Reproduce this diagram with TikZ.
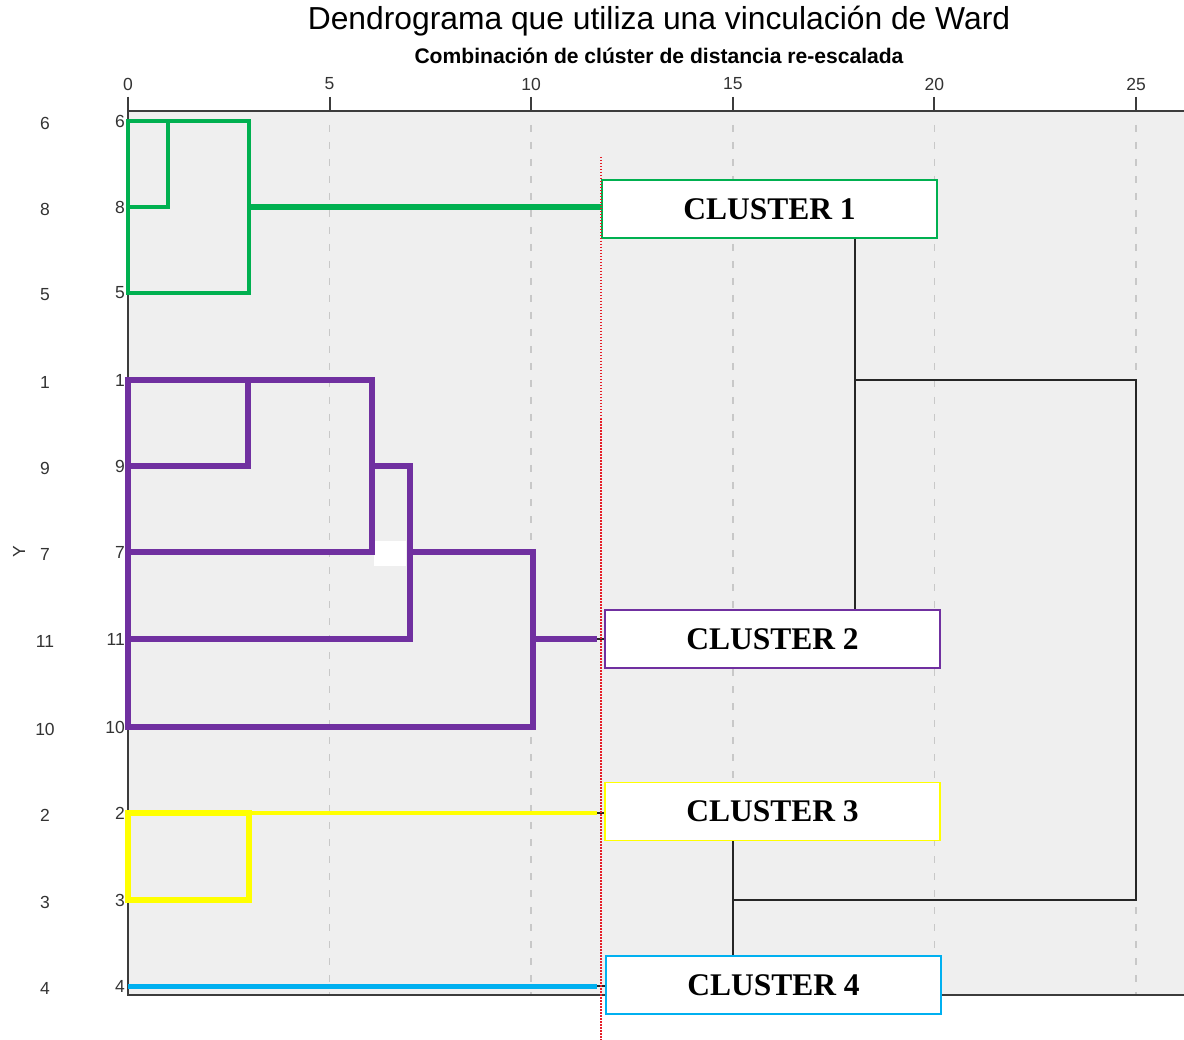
\documentclass[tikz,border=0pt]{standalone}
\usepackage{fontspec}
\setmainfont{Liberation Sans}
\newfontfamily\tnr{Liberation Serif}
\definecolor{plotbg}{RGB}{239,239,239}
\definecolor{axisc}{RGB}{60,60,60}
\definecolor{gridc}{RGB}{200,200,200}
\definecolor{cgreen}{RGB}{0,176,80}
\definecolor{cpurple}{RGB}{112,48,160}
\definecolor{cyellow}{RGB}{255,255,0}
\definecolor{cblue}{RGB}{0,176,240}
\definecolor{cutred}{RGB}{230,30,40}
\tikzset{
  axisline/.style={draw=axisc,line width=2pt},
  gridline/.style={draw=gridc,line width=1.5pt,dash pattern=on 7pt off 10pt},
  ticklab/.style={font=\fontsize{17.5}{20}\selectfont,text=black!80,inner sep=0pt},
  rowlab/.style={font=\fontsize{17.5}{20}\selectfont,text=black!80,inner sep=0pt},
  greenl/.style={draw=cgreen,line width=4pt,line join=miter,line cap=rect},
  purpl/.style={draw=cpurple,line width=5.5pt,line join=miter,line cap=rect},
  yell/.style={draw=cyellow,line width=6pt,line join=miter,line cap=rect},
  bluel/.style={draw=cblue,line width=5pt},
  blk/.style={draw=black!85,line width=2pt,line join=miter},
  clbox/.style={fill=white,line width=1.5pt,minimum width=335pt,minimum height=58pt,inner sep=0pt,
    font=\tnr\bfseries\fontsize{31.5}{36}\selectfont},
}
\begin{document}
\begin{tikzpicture}[x=1pt,y=-1pt]
\useasboundingbox (0,0) rectangle (1184,1040);
\fill[white] (0,0) rectangle (1184,1040);
% plot area
\fill[plotbg] (128,111) rectangle (1184,995);
% grid
\foreach \v in {5,10,15,20,25}{
  \draw[gridline] ({128+40.32*\v},125) -- ({128+40.32*\v},995);
}
% axes
\draw[axisline] (128,97) -- (128,995) -- (1184,995);
\draw[axisline] (128,111) -- (1184,111);
\foreach \v in {0,5,10,15,20,25}{
  \draw[axisline] ({128+40.32*\v},97) -- ({128+40.32*\v},111);
  \node[ticklab] (t\v) at ({128+40.32*\v},84) {\v};
}
% titles
\node[font=\fontsize{31.8}{36}\selectfont,inner sep=0pt] (title) at (659,21) {Dendrograma que utiliza una vinculación de Ward};
\node[font=\bfseries\fontsize{21.1}{24}\selectfont,inner sep=0pt] (subtitle) at (659,56) {Combinación de clúster de distancia re-escalada};
\node[rowlab,rotate=90] (ylab) at (19,552) {Y};
% row labels
\foreach \lab/\yy in {6/121,8/207,5/293,1/380,9/466,7/552,11/639,10/727,2/813,3/900,4/986}{
  \node[rowlab] (o\lab) at (45,{\yy+2}) {\lab};
  \node[rowlab,anchor=east] (i\lab) at (125,\yy) {\lab};
}
% white patch
\fill[white] (374,541) rectangle (406,566);
% black upper tree
\coordinate (k18) at (855,0);
\coordinate (k15) at (733,0);
% cluster boxes
\node[clbox,draw=cgreen] (c1) at (769.5,209) {CLUSTER 1};
\node[clbox,draw=cpurple] (c2) at (772.5,639) {CLUSTER 2};
\node[clbox,draw=cyellow] (c3) at (772.5,811.5) {CLUSTER 3};
\node[clbox,draw=cblue] (c4) at (773.5,985) {CLUSTER 4};
\draw[blk] (c1.south -| k18) -- (c2.north -| k18);
\draw[blk] (c3.south -| k15) -- (c4.north -| k15);
\draw[blk] (855,380) -- (1136,380) -- (1136,900) -- (733,900);
% green cluster
\draw[greenl] (128,121) rectangle (249,293);
\draw[greenl] (168,121) -- (168,207) -- (128,207);
\coordinate (g1) at (249,207);
\draw[draw=cgreen,line width=6pt] (g1) -- (c1.west |- g1);
% purple cluster
\draw[purpl] (128,380) -- (372,380) -- (372,552) -- (128,552);
\draw[purpl] (128,380) -- (128,727);
\draw[purpl] (248,380) -- (248,466) -- (128,466);
\draw[purpl] (372,466) -- (410,466) -- (410,639) -- (128,639);
\draw[purpl] (410,552) -- (533,552) -- (533,727) -- (128,727);
\coordinate (p1) at (533,639);
\coordinate (p2) at (597,639);
\draw[draw=cpurple,line width=5.5pt] (p1) -- (p2);
\draw[blk] (p2) -- (c2.west |- p2);
% yellow cluster
\draw[yell] (128,813) rectangle (249,900);
\coordinate (y1) at (249,813);
\coordinate (y2) at (597,813);
\draw[draw=cyellow,line width=4pt] (y1) -- (y2);
\draw[blk] (y2) -- (c3.west |- y2);
% blue cluster
\coordinate (b1) at (128,986);
\coordinate (b2) at (597,986);
\draw[bluel] (b1) -- (b2);
\draw[blk] (b2) -- (c4.west |- b2);
% red cut line
\coordinate (cutTop) at (601,157);
\coordinate (cutBot) at (601,1040);
\draw[draw=cutred,line width=1.2pt,dash pattern=on 1.5pt off 1.5pt] (cutTop) -- (cutBot);
\end{tikzpicture}
\end{document}
